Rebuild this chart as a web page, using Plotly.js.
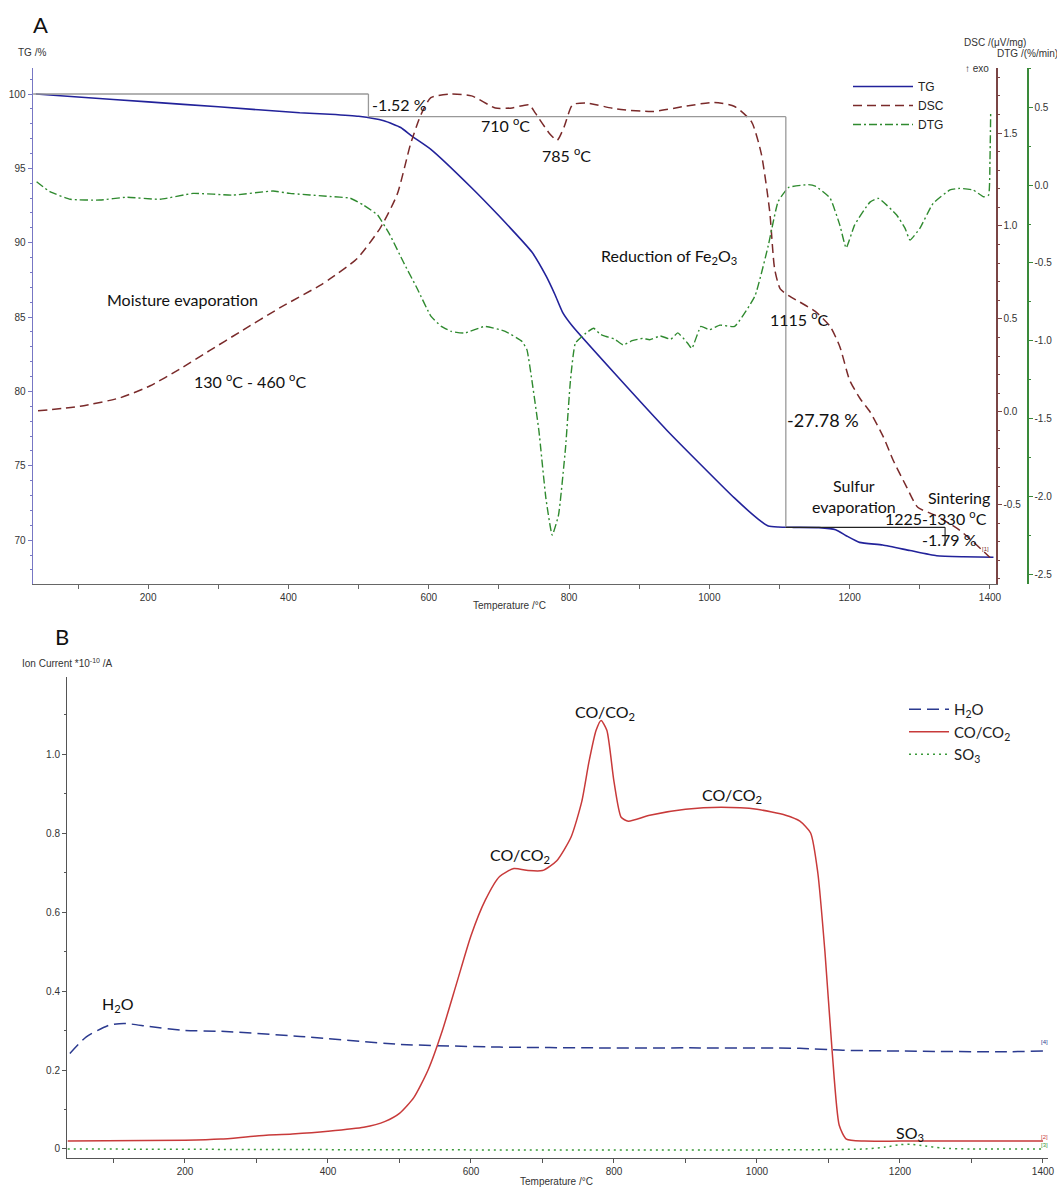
<!DOCTYPE html>
<html><head><meta charset="utf-8">
<script src="https://cdn.plot.ly/plotly-3.0.1.min.js"></script>
<style>html,body{margin:0;padding:0;background:#fff}#chart{width:1057px;height:1187px}</style>
</head><body><div id="chart"></div>
<script>
// ---------- Panel A data ----------
const tempTG = [40,100,200,300,416,459,500,536,560,575,603,661,699,747,767,780,791,805,870,940,1036,1070,1084,1098,1120,1156,1180,1195,1214,1247,1286,1324,1362,1405];
const tgValues = [100,99.8,99.47,99.14,98.74,98.64,98.5,98.2,97.75,97.2,96.28,93.7,91.86,89.37,87.78,86.5,85.3,84.38,80.95,77.36,72.82,71.4,70.95,70.88,70.86,70.84,70.7,70.3,69.85,69.67,69.3,68.95,68.88,68.85];

const tempDSC = [43,103,160,203,245,288,331,388,445,459,498,531,555,574,589,603,632,661,695,719,743,752,772,783,793,805,824,868,920,964,1007,1036,1060,1074,1086,1093,1101,1113,1129,1151,1172,1186,1200,1215,1229,1248,1262,1280,1297,1322,1357,1400];
const dscValues = [0.005,0.03,0.075,0.14,0.23,0.33,0.43,0.56,0.68,0.715,0.825,0.99,1.17,1.44,1.6,1.69,1.71,1.70,1.635,1.635,1.652,1.607,1.498,1.461,1.534,1.652,1.662,1.629,1.616,1.643,1.665,1.643,1.561,1.389,1.079,0.77,0.661,0.625,0.59,0.54,0.46,0.35,0.17,0.07,0.0,-0.135,-0.261,-0.396,-0.514,-0.557,-0.638,-0.784];

const tempDTG = [41,60,89,131,169,217,264,321,378,402,459,488,507,527,545,564,584,603,618,632,651,680,709,733,740,747,757,767,776,785,795,802,809,824,835,845,853,865,877,890,905,915,930,945,955,969,975,988,1000,1015,1036,1065,1084,1098,1113,1141,1151,1172,1186,1195,1207,1229,1241,1267,1279,1286,1300,1319,1343,1357,1376,1391,1398,1400,1401];
const dtgValues = [0.022,-0.042,-0.091,-0.096,-0.078,-0.091,-0.053,-0.064,-0.038,-0.053,-0.073,-0.084,-0.128,-0.192,-0.323,-0.496,-0.669,-0.842,-0.908,-0.94,-0.951,-0.908,-0.94,-1.005,-1.059,-1.254,-1.579,-2.013,-2.25,-2.12,-1.687,-1.254,-1.016,-0.951,-0.92,-0.96,-0.973,-0.99,-1.027,-1.0,-0.985,-0.994,-0.97,-0.99,-0.95,-1.016,-1.05,-0.908,-0.93,-0.9,-0.908,-0.712,-0.388,-0.106,-0.015,0.003,-0.006,-0.083,-0.257,-0.404,-0.257,-0.109,-0.085,-0.192,-0.278,-0.353,-0.278,-0.117,-0.031,-0.021,-0.031,-0.075,-0.064,0.16,0.46];

// step guide lines of panel A (temperature, TG)
const stepTemps = [36,514,1109,1336];
const stepTG = [100,98.48,70.86,69.6];

// ---------- Panel B data ----------
const tempH2O = [39,62,95,115,150,200,250,361,500,640,780,920,1060,1120,1200,1340,1400];
const h2oValues = [0.242,0.284,0.314,0.318,0.31,0.30,0.298,0.285,0.265,0.258,0.256,0.256,0.255,0.25,0.248,0.246,0.248];

const tempCO = [36,200,250,300,350,400,450,480,500,520,540,560,580,600,620,640,660,680,700,720,740,755,765,775,782,790,800,810,820,850,900,950,1000,1040,1060,1075,1085,1095,1105,1115,1125,1150,1200,1300,1400];
const coValues = [0.02,0.022,0.025,0.033,0.038,0.045,0.055,0.07,0.09,0.13,0.2,0.3,0.42,0.54,0.63,0.69,0.71,0.705,0.705,0.73,0.79,0.88,0.98,1.06,1.085,1.06,0.93,0.84,0.83,0.845,0.86,0.865,0.86,0.845,0.83,0.80,0.70,0.5,0.25,0.06,0.025,0.02,0.02,0.02,0.02];

const tempSO3 = [36,1150,1180,1200,1215,1230,1260,1300,1400];
const so3Values = [0,0,0.005,0.011,0.012,0.009,0.002,0,0];

// tick labels
const tgTicks = [70,75,80,85,90,95,100];
const dscTicks = [-0.5,0,0.5,1.0,1.5];
const dscTickText = ["-0.5","0.0","0.5","1.0","1.5"];
const dtgTicks = [-2.5,-2.0,-1.5,-1.0,-0.5,0,0.5];
const dtgTickText = ["-2.5","-2.0","-1.5","-1.0","-0.5","0.0","0.5"];
const ionTicks = [0,0.2,0.4,0.6,0.8,1.0];
const ionTickText = ["0","0.2","0.4","0.6","0.8","1.0"];
const tempTicks = [200,400,600,800,1000,1200,1400];

// ---------- layout helpers ----------
const W = 1057, H = 1187;
const px = v => v / W;
const py = v => 1 - v / H;
const tickFont = {family: 'Liberation Sans, Arial, sans-serif', size: 10, color: '#333'};
const annFont = {family: 'Lato, Open Sans, sans-serif', size: 16, color: '#111'};

const traces = [
  {x: tempTG, y: tgValues, name: 'TG', xaxis: 'x', yaxis: 'y', mode: 'lines',
   line: {color: '#22229a', width: 1.6, shape: 'spline', smoothing: 0.5}, legend: 'legend'},
  {x: tempDSC, y: dscValues, name: 'DSC', xaxis: 'x', yaxis: 'y2', mode: 'lines',
   line: {color: '#7a2a2a', width: 1.5, dash: '9px,5px', shape: 'spline', smoothing: 0.6}, legend: 'legend'},
  {x: tempDTG, y: dtgValues, name: 'DTG', xaxis: 'x', yaxis: 'y3', mode: 'lines',
   line: {color: '#2f8a2f', width: 1.4, dash: '8px,3px,2px,3px', shape: 'spline', smoothing: 0.4}, legend: 'legend'},
  {x: tempH2O, y: h2oValues, name: 'H<sub>2</sub>O', xaxis: 'x2', yaxis: 'y4', mode: 'lines',
   line: {color: '#2b3a8f', width: 1.5, dash: '12px,6px', shape: 'spline', smoothing: 0.6}, legend: 'legend2'},
  {x: tempCO, y: coValues, name: 'CO/CO<sub>2</sub>', xaxis: 'x2', yaxis: 'y4', mode: 'lines',
   line: {color: '#c83a3a', width: 1.5, shape: 'spline', smoothing: 0.6}, legend: 'legend2'},
  {x: tempSO3, y: so3Values, name: 'SO<sub>3</sub>', xaxis: 'x2', yaxis: 'y4', mode: 'lines',
   line: {color: '#3a9a3a', width: 1.5, dash: '2px,4px', shape: 'spline', smoothing: 0.6}, legend: 'legend2'}
];

const shapes = [
  {type:'line', xref:'x', yref:'y', x0: stepTemps[0], x1: stepTemps[1], y0: stepTG[0], y1: stepTG[0], line:{color:'#999', width:1.3}},
  {type:'line', xref:'x', yref:'y', x0: stepTemps[1], x1: stepTemps[1], y0: stepTG[0], y1: stepTG[1], line:{color:'#999', width:1.3}},
  {type:'line', xref:'x', yref:'y', x0: stepTemps[1], x1: stepTemps[2], y0: stepTG[1], y1: stepTG[1], line:{color:'#999', width:1.3}},
  {type:'line', xref:'x', yref:'y', x0: stepTemps[2], x1: stepTemps[2], y0: stepTG[1], y1: stepTG[2], line:{color:'#999', width:1.3}},
  {type:'line', xref:'x', yref:'y', x0: stepTemps[2], x1: stepTemps[3], y0: stepTG[2], y1: stepTG[2], line:{color:'#222', width:1.1}},
  {type:'line', xref:'x', yref:'y', x0: stepTemps[3], x1: stepTemps[3], y0: stepTG[2], y1: stepTG[3], line:{color:'#222', width:1.1}}
];

function ann(text, x, y, font, extra) {
  return Object.assign({text: text, xref: 'paper', yref: 'paper', x: px(x), y: py(y),
    xanchor: 'center', yanchor: 'middle', showarrow: false, font: font || annFont}, extra || {});
}
const smallFont = {family: 'Liberation Sans, Arial, sans-serif', size: 10, color: '#333'};
const tinyFont = c => ({family: 'Liberation Sans, Arial, sans-serif', size: 6, color: c});
const annotations = [
  ann('A', 40, 24, {family:'Lato, sans-serif', size: 22, color:'#111'}),
  ann('B', 62, 636, {family:'Lato, sans-serif', size: 22, color:'#111'}),
  ann('TG /%', 32, 52, smallFont),
  ann('DSC /(μV/mg)', 995, 42, smallFont),
  ann('DTG /(%/min)', 1027, 53, smallFont),
  ann('↑ exo', 977, 68, smallFont),
  ann('Temperature /°C', 509, 606, smallFont),
  ann('Ion Current *10<sup>-10</sup> /A', 67, 663, smallFont),
  ann('Temperature /°C', 556, 1181, smallFont),
  ann('-1.52 %', 370, 104, annFont, {xanchor:'left'}),
  ann('710 <sup>o</sup>C', 505, 124),
  ann('785 <sup>o</sup>C', 566, 154),
  ann('Moisture evaporation', 182, 300),
  ann('130 <sup>o</sup>C - 460 <sup>o</sup>C', 250, 380),
  ann('Reduction of Fe<sub>2</sub>O<sub>3</sub>', 669, 257),
  ann('1115 <sup>o</sup>C', 799, 318),
  ann('-27.78 %', 823, 420, {family:'Lato, Open Sans, sans-serif', size: 18, color:'#111'}),
  ann('Sulfur<br>evaporation', 854, 496),
  ann('Sintering', 959, 497),
  ann('1225-1330 <sup>o</sup>C', 936, 518),
  ann('-1.79 %', 949, 539),
  ann('[1]', 985, 549, tinyFont('#7a2a2a')),
  ann('H<sub>2</sub>O', 118, 1005),
  ann('CO/CO<sub>2</sub>', 520, 855),
  ann('CO/CO<sub>2</sub>', 605, 712),
  ann('CO/CO<sub>2</sub>', 732, 795),
  ann('SO<sub>3</sub>', 910, 1133),
  ann('[4]', 1044, 1042, tinyFont('#2b3a8f')),
  ann('[2]', 1044, 1137, tinyFont('#c83a3a')),
  ann('[3]', 1044, 1145, tinyFont('#3a9a3a'))
];

const axBase = {showgrid: false, zeroline: false, showline: true, ticks: 'outside', ticklen: 4, tickwidth: 1, tickfont: tickFont};

const layout = {
  width: W, height: H, margin: {l: 0, r: 0, t: 0, b: 0},
  paper_bgcolor: '#fff', plot_bgcolor: 'rgba(0,0,0,0)',
  showlegend: true,
  xaxis: Object.assign({}, axBase, {domain: [px(33), px(996)], range: [35.85, 1408.6], anchor: 'y',
    tickvals: tempTicks, linecolor: '#666', tickcolor: '#666',
    minor: {dtick: 100, tick0: 0, ticks: 'outside', ticklen: 4, tickcolor: '#666'}}),
  yaxis: Object.assign({}, axBase, {domain: [1 - 584 / H, 1 - 68 / H], range: [67.05, 101.75], anchor: 'x',
    tickvals: tgTicks, linecolor: '#7777c4', tickcolor: '#7777c4', linewidth: 1.5,
    minor: {dtick: 1, tick0: 0, ticks: 'outside', ticklen: 2, tickcolor: '#7777c4'}}),
  yaxis2: Object.assign({}, axBase, {overlaying: 'y', side: 'right', anchor: 'x', range: [-0.927, 1.85],
    tickvals: dscTicks, ticktext: dscTickText, linecolor: '#7a4545', tickcolor: '#7a4545', linewidth: 1.5,
    minor: {dtick: 0.1, tick0: 0, ticks: 'outside', ticklen: 2, tickcolor: '#7a4545'}}),
  yaxis3: Object.assign({}, axBase, {overlaying: 'y', side: 'right', anchor: 'free', position: px(1027),
    range: [-2.564, 0.753], tickvals: dtgTicks, ticktext: dtgTickText,
    linecolor: '#3a8a3a', tickcolor: '#3a8a3a', linewidth: 1.5,
    minor: {dtick: 0.25, tick0: 0, ticks: 'outside', ticklen: 2, tickcolor: '#3a8a3a'}}),
  xaxis2: Object.assign({}, axBase, {domain: [px(67), px(1048)], range: [35, 1407], anchor: 'y4',
    tickvals: tempTicks, linecolor: '#555', tickcolor: '#555',
    minor: {dtick: 100, tick0: 0, ticks: 'outside', ticklen: 4, tickcolor: '#555'}}),
  yaxis4: Object.assign({}, axBase, {domain: [1 - 1158 / H, 1 - 677 / H], range: [-0.0228, 1.195], anchor: 'x2',
    tickvals: ionTicks, ticktext: ionTickText, linecolor: '#555', tickcolor: '#555',
    minor: {dtick: 0.1, tick0: 0, ticks: 'outside', ticklen: 2, tickcolor: '#555'}}),
  legend: {x: px(848), y: py(72), xanchor: 'left', yanchor: 'top', bgcolor: 'rgba(0,0,0,0)',
    font: {family: 'Liberation Sans, Arial, sans-serif', size: 12, color: '#222'},
    itemwidth: 60, tracegroupgap: 0, traceorder: 'normal'},
  legend2: {x: px(904), y: py(693), xanchor: 'left', yanchor: 'top', bgcolor: 'rgba(0,0,0,0)',
    font: {family: 'Lato, Open Sans, sans-serif', size: 15, color: '#222'},
    itemwidth: 40, tracegroupgap: 0, traceorder: 'normal'},
  shapes: shapes,
  annotations: annotations
};

Plotly.newPlot('chart', traces, layout, {staticPlot: true, displayModeBar: false});
</script></body></html>
